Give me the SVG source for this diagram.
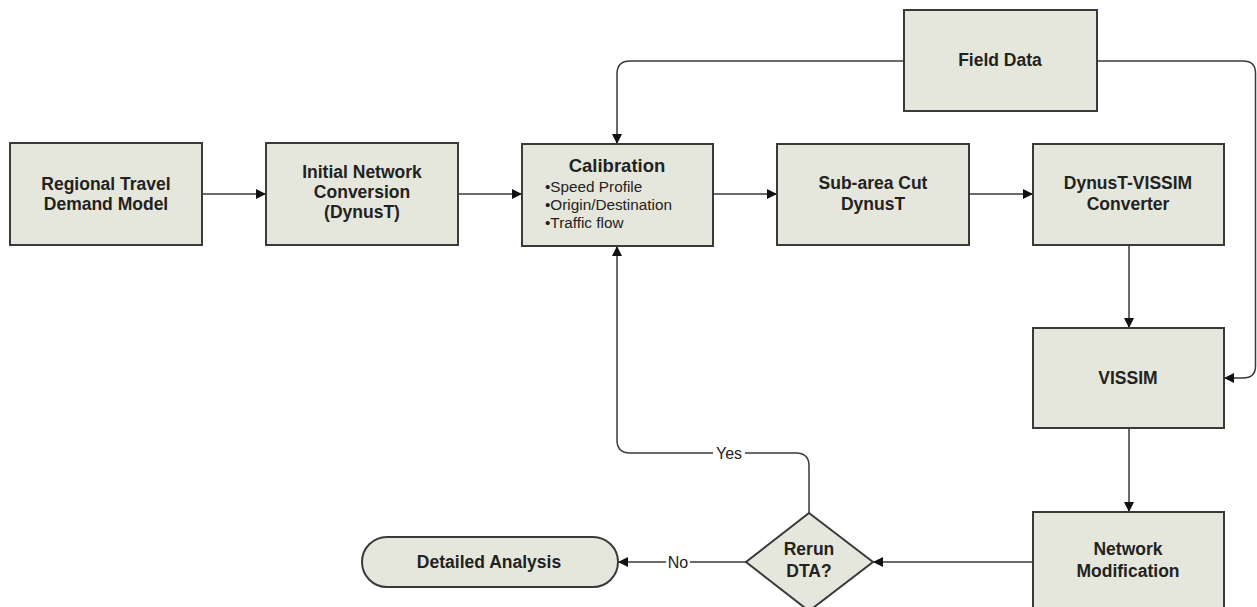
<svg xmlns="http://www.w3.org/2000/svg" width="1257" height="607" viewBox="0 0 1257 607">
<style>
.box{fill:#e6e7dc;stroke:#3a3a3a;stroke-width:2}
.t{font-family:"Liberation Sans",Arial,sans-serif;font-size:17.5px;font-weight:bold;fill:#222;text-anchor:middle}
.b{font-family:"Liberation Sans",Arial,sans-serif;font-size:15.3px;fill:#222}
.lbl{font-family:"Liberation Sans",Arial,sans-serif;font-size:16px;fill:#222;text-anchor:middle}
.c{fill:none;stroke:#3a3a3a;stroke-width:1.5}
</style>
<defs>
<marker id="arr" viewBox="0 0 10 10" refX="10" refY="5" markerWidth="10" markerHeight="10" markerUnits="userSpaceOnUse" orient="auto">
<path d="M0,0 L10,5 L0,10 z" fill="#111"/>
</marker>
</defs>
<rect width="1257" height="607" fill="#fff"/>
<g id="connectors">
<path class="c" d="M202,194 H266" marker-end="url(#arr)"/>
<path class="c" d="M458,194 H522" marker-end="url(#arr)"/>
<path class="c" d="M713,194 H777" marker-end="url(#arr)"/>
<path class="c" d="M969,194 H1033" marker-end="url(#arr)"/>
<path class="c" d="M1129,245 V328" marker-end="url(#arr)"/>
<path class="c" d="M1129,428 V512" marker-end="url(#arr)"/>
<path class="c" d="M1032,562 H873" marker-end="url(#arr)"/>
<path class="c" d="M746,562 H618" marker-end="url(#arr)"/>
<path class="c" d="M809,513 V466 Q809,453 796,453 H630 Q617,453 617,440 V246" marker-end="url(#arr)"/>
<path class="c" d="M904,61 H630 Q617,61 617,74 V144" marker-end="url(#arr)"/>
<path class="c" d="M1097,61 H1243 Q1255.5,61 1255.5,73 V366 Q1255.5,378 1243,378 H1224" marker-end="url(#arr)"/>
<rect x="713" y="444" width="32" height="18" fill="#fff"/>
<text class="lbl" x="729" y="459">Yes</text>
<rect x="666" y="553" width="24" height="18" fill="#fff"/>
<text class="lbl" x="678" y="568">No</text>
</g>
<g id="field-data">
<rect class="box" x="904" y="10" width="193" height="101"/>
<text class="t" x="1000" y="66">Field Data</text>
</g>
<g id="regional-travel-demand-model">
<rect class="box" x="10" y="143" width="192" height="102"/>
<text class="t" x="106" y="190">Regional Travel</text>
<text class="t" x="106" y="210">Demand Model</text>
</g>
<g id="initial-network-conversion">
<rect class="box" x="266" y="143" width="192" height="102"/>
<text class="t" x="362" y="178">Initial Network</text>
<text class="t" x="362" y="198">Conversion</text>
<text class="t" x="362" y="218">(DynusT)</text>
</g>
<g id="calibration">
<rect class="box" x="522" y="144" width="191" height="102"/>
<text class="t" x="617" y="172" style="font-size:18.5px">Calibration</text>
<text class="b" x="545" y="192">•Speed Profile</text>
<text class="b" x="545" y="210">•Origin/Destination</text>
<text class="b" x="545" y="228">•Traffic flow</text>
</g>
<g id="sub-area-cut">
<rect class="box" x="777" y="144" width="192" height="101"/>
<text class="t" x="873" y="189">Sub-area Cut</text>
<text class="t" x="873" y="210">DynusT</text>
</g>
<g id="dynust-vissim-converter">
<rect class="box" x="1033" y="144" width="191" height="101"/>
<text class="t" x="1128" y="189">DynusT-VISSIM</text>
<text class="t" x="1128" y="210">Converter</text>
</g>
<g id="vissim">
<rect class="box" x="1033" y="328" width="191" height="100"/>
<text class="t" x="1128" y="384">VISSIM</text>
</g>
<g id="network-modification">
<rect class="box" x="1033" y="512" width="191" height="110"/>
<text class="t" x="1128" y="555">Network</text>
<text class="t" x="1128" y="577">Modification</text>
</g>
<g id="rerun-dta">
<path class="box" d="M809,513 L873,562 L809,611 L746,562 Z"/>
<text class="t" x="809" y="555">Rerun</text>
<text class="t" x="809" y="577">DTA?</text>
</g>
<g id="detailed-analysis">
<rect class="box" x="362" y="537" width="256" height="50" rx="25" ry="25"/>
<text class="t" x="489" y="568">Detailed Analysis</text>
</g>
</svg>
